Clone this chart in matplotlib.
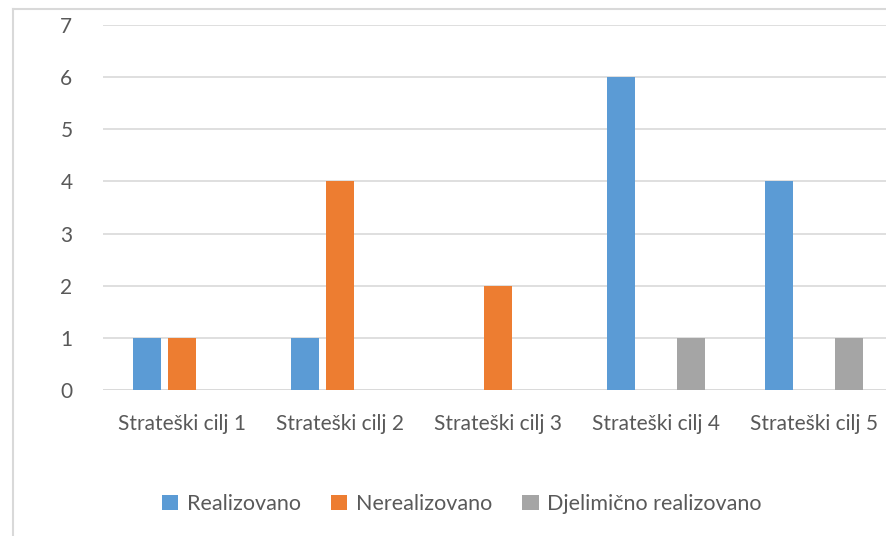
import numpy as np
import matplotlib.pyplot as plt
from matplotlib.lines import Line2D

categories = ['Strateški cilj 1', 'Strateški cilj 2', 'Strateški cilj 3', 'Strateški cilj 4', 'Strateški cilj 5']
realizovano = [1, 1, 0, 6, 4]
nerealizovano = [1, 4, 2, 0, 0]
djelimicno = [0, 0, 0, 1, 1]
series_names = ['Realizovano', 'Nerealizovano', 'Djelimično realizovano']
colors = ['#5B9BD5', '#ED7D31', '#A5A5A5']

plt.rcParams['font.family'] = ['Lato', 'DejaVu Sans']
txt = '#595959'
grid = '#d9d9d9'

W, H = 886, 536
fig = plt.figure(figsize=(W/100, H/100), dpi=100)
ax = fig.add_axes([103/W, 1-390/H, 790/W, 365/H])

x = np.arange(len(categories))
step = 0.2215
bw = 0.177
for k, (vals, name, c) in enumerate(zip([realizovano, nerealizovano, djelimicno], series_names, colors)):
    ax.bar(x + (k-1)*step, vals, width=bw, color=c, label=name, zorder=3)

ax.set_xlim(-0.5, len(categories)-0.5)
ax.set_ylim(0, 7)
ax.set_yticks(range(0, 8))
ax.yaxis.grid(True, color=grid, lw=1.2, zorder=0)
for s in ax.spines.values():
    s.set_visible(False)
ax.axhline(0, color=grid, lw=1.2, zorder=2)
ax.tick_params(axis='both', length=0, colors=txt, labelsize=15)
ax.tick_params(axis='y', pad=22)
ax.tick_params(axis='x', pad=17)
ax.set_xticks(x)
ax.set_xticklabels(categories)

ax.legend(loc='center', bbox_to_anchor=(462/W, 1-504/H), bbox_transform=fig.transFigure,
          ncol=3, frameon=False, fontsize=15.5, labelcolor=txt, handlelength=0.75, handleheight=0.75,
          handletextpad=0.4, columnspacing=1.4)

# chart border (only left and top visible in the crop)
fig.add_artist(Line2D([13/W, 13/W], [0, 1-9/H], transform=fig.transFigure, color=grid, lw=1.5))
fig.add_artist(Line2D([13/W, 1], [1-9/H, 1-9/H], transform=fig.transFigure, color=grid, lw=1.5))

fig.savefig('out.png', dpi=100)
